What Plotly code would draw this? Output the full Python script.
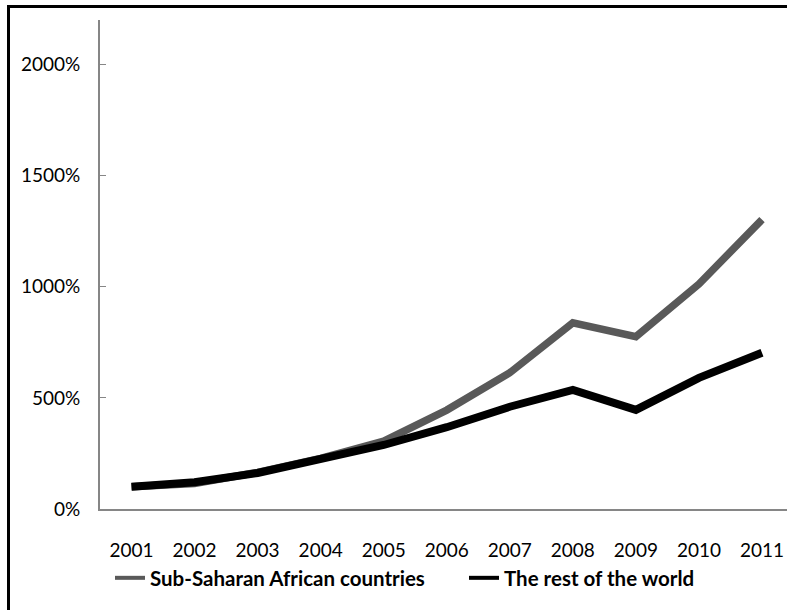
import plotly.graph_objects as go

years = ["2001", "2002", "2003", "2004", "2005", "2006", "2007", "2008", "2009", "2010", "2011"]
ssa_pct = [100, 115, 165, 228, 305, 445, 613, 838, 775, 1012, 1302]
row_pct = [100, 120, 162, 225, 288, 368, 460, 536, 446, 590, 703]
y_ticks = [0, 500, 1000, 1500, 2000]
y_tick_text = ["0%", "500%", "1000%", "1500%", "2000%"]

W, H = 787, 610
ML, MR, MT, MB = 100, 0, 20, 101
pw, ph = W - ML - MR, H - MT - MB

series = [
    ("Sub-Saharan African countries", ssa_pct, "#595959", 7.5, "legend"),
    ("The rest of the world", row_pct, "#000000", 8, "legend2"),
]

fig = go.Figure()
for name, vals, color, width, leg in series:
    fig.add_trace(go.Scatter(
        x=list(range(len(years))), y=vals, mode="lines",
        name=name, line=dict(color=color, width=width),
        showlegend=False,
    ))
    # legend key drawn with a thinner stroke than the data line
    fig.add_trace(go.Scatter(
        x=[None], y=[None], mode="lines",
        name=name, line=dict(color=color, width=4),
        legend=leg, hoverinfo="skip",
    ))

step = 63.0
x_right = (W - ML - 0.5) / step - 0.5

legend_font = dict(family="Lato", size=20.5, color="#000000", weight="bold")
legend_y = -(578 - MT - ph) / ph

fig.update_layout(
    width=W, height=H,
    margin=dict(l=ML, r=MR, t=MT, b=MB),
    paper_bgcolor="white", plot_bgcolor="white",
    font=dict(family="Lato", size=19, color="#000000"),
    showlegend=True,
    legend=dict(
        orientation="h", x=(110 - ML) / pw, xanchor="left",
        y=legend_y, yanchor="middle",
        font=legend_font, bgcolor="rgba(0,0,0,0)",
    ),
    legend2=dict(
        orientation="h", x=(464 - ML) / pw, xanchor="left",
        y=legend_y, yanchor="middle",
        font=legend_font, bgcolor="rgba(0,0,0,0)",
    ),
    xaxis=dict(
        range=[-0.5, x_right],
        tickmode="array", tickvals=list(range(len(years))), ticktext=years,
        showgrid=False, zeroline=False,
        showline=True, linecolor="#868686", linewidth=2,
        ticks="", ticklabelstandoff=23,
    ),
    yaxis=dict(
        range=[0, 2200],
        tickmode="array", tickvals=y_ticks, ticktext=y_tick_text,
        showgrid=False, zeroline=False,
        showline=True, linecolor="#868686", linewidth=2,
        ticks="inside", ticklen=6, tickcolor="#868686", tickwidth=1,
        ticklabelstandoff=14,
    ),
)

# outer frame around the chart
fx = (8.5 - ML) / pw
fy = 1 + (MT - 6.5) / ph
fig.add_shape(type="rect", xref="paper", yref="paper",
              x0=fx, x1=1.2, y0=-0.5, y1=fy,
              line=dict(color="#000000", width=3), fillcolor="rgba(0,0,0,0)")

fig.write_html("out.html")
